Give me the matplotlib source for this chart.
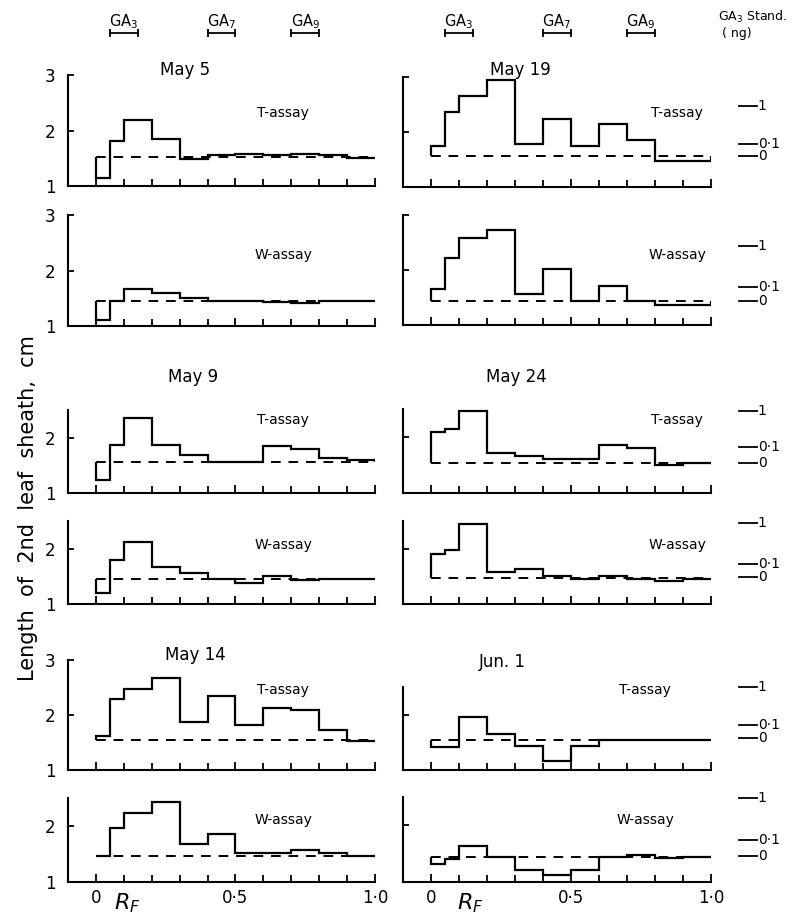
import matplotlib
matplotlib.use("Agg")
import matplotlib.pyplot as plt
from matplotlib.transforms import blended_transform_factory
from matplotlib.ticker import FixedLocator

# Rf zones (first zone split in halves)
rf_edges = [0, 0.05, 0.1, 0.2, 0.3, 0.4, 0.5, 0.6, 0.7, 0.8, 0.9, 1.0]

# Length of 2nd leaf sheath (cm) per zone
may5_t = [1.14, 1.81, 2.19, 1.84, 1.49, 1.55, 1.57, 1.55, 1.58, 1.55, 1.50]
may5_w = [1.11, 1.45, 1.66, 1.59, 1.50, 1.45, 1.45, 1.43, 1.41, 1.45, 1.45]
may9_t = [1.24, 1.87, 2.35, 1.87, 1.68, 1.56, 1.56, 1.85, 1.79, 1.64, 1.59]
may9_w = [1.19, 1.80, 2.12, 1.67, 1.56, 1.45, 1.38, 1.50, 1.44, 1.45, 1.45]
may14_t = [1.62, 2.29, 2.47, 2.68, 1.87, 2.34, 1.81, 2.13, 2.09, 1.73, 1.52]
may14_w = [1.47, 1.97, 2.24, 2.42, 1.67, 1.86, 1.52, 1.52, 1.58, 1.52, 1.47]
may19_t = [1.74, 2.36, 2.65, 2.95, 1.79, 2.23, 1.74, 2.15, 1.85, 1.47, 1.47]
may19_w = [1.65, 2.21, 2.59, 2.73, 1.56, 2.02, 1.44, 1.71, 1.44, 1.37, 1.37]
may24_t = [2.09, 2.15, 2.47, 1.72, 1.66, 1.60, 1.60, 1.85, 1.80, 1.50, 1.54]
may24_w = [1.91, 1.98, 2.44, 1.58, 1.64, 1.50, 1.45, 1.51, 1.46, 1.41, 1.46]
jun1_t = [1.42, 1.42, 1.95, 1.65, 1.43, 1.17, 1.43, 1.55, 1.54, 1.55, 1.54]
jun1_w = [1.31, 1.40, 1.63, 1.45, 1.21, 1.13, 1.21, 1.45, 1.47, 1.43, 1.45]

dates = ["May 5", "May 9", "May 14", "May 19", "May 24", "Jun. 1"]
t_assay = [may5_t, may9_t, may14_t, may19_t, may24_t, jun1_t]
w_assay = [may5_w, may9_w, may14_w, may19_w, may24_w, jun1_w]
t_control = [1.53, 1.56, 1.55, 1.56, 1.54, 1.55]
w_control = [1.45, 1.45, 1.47, 1.44, 1.47, 1.45]

# GA3 standards (1, 0.1, 0 ng), shown beside right-hand panels
std_labels = ["1", "0·1", "0"]
t_std = [[2.47, 1.79, 1.56], [2.47, 1.82, 1.54], [2.50, 1.82, 1.57]]
w_std = [[2.44, 1.69, 1.44], [2.46, 1.73, 1.49], [2.48, 1.74, 1.46]]

# Rf of authentic GAs
ga_names = ["GA$_3$", "GA$_7$", "GA$_9$"]
ga_rf = [(0.05, 0.15), (0.40, 0.50), (0.70, 0.80)]

W, H = 803, 914
fig = plt.figure(figsize=(W / 100, H / 100), dpi=100)
plt.rcParams["font.family"] = "DejaVu Sans"

cols = [(68, 375), (403, 711)]
rows = [
    [(75, 186), (215, 326), (410, 493), (521, 604), (660, 770), (798, 882)],
    [(77, 187), (215, 325), (409, 493), (521, 604), (687, 770), (797, 882)],
]
tops = [[3, 3, 2.5, 2.5, 3, 2.5], [3, 3, 2.5, 2.5, 2.5, 2.5]]
title_x = [[185, 193, 195], [520, 516, 502]]
title_y = [[70, 377, 655], [70, 377, 662]]
assay_x = [[283, 283, 283], [677, 677, 645]]
assay_y = [[113, 255], [420, 545], [690, 820]]


def px(x, y):
    return x / W, 1 - y / H


def add_ax(c, r):
    x0, x1 = cols[c]
    t, b = rows[c][r]
    return fig.add_axes([x0 / W, 1 - b / H, (x1 - x0) / W, (b - t) / H])


for c in range(2):
    for d in range(3):
        k = c * 3 + d
        for j, (vals, ctrl, name) in enumerate(
            [(t_assay[k], t_control[k], "T-assay"), (w_assay[k], w_control[k], "W-assay")]
        ):
            r = d * 2 + j
            ax = add_ax(c, r)
            ax.stairs(vals, rf_edges, baseline=ctrl, color="k", lw=1.6, fill=False)
            ax.plot([0, 1.0], [ctrl, ctrl], color="k", lw=1.4, dashes=(5, 4))
            top = tops[c][r]
            ax.set_xlim(-0.1, 1.0)
            ax.set_ylim(1, top)
            for s in ["top", "right"]:
                ax.spines[s].set_visible(False)
            for s in ["left", "bottom"]:
                ax.spines[s].set_linewidth(1.5)
            ax.xaxis.set_major_locator(FixedLocator([0, 0.5, 1.0]))
            ax.xaxis.set_minor_locator(FixedLocator([0.1, 0.2, 0.3, 0.4, 0.6, 0.7, 0.8, 0.9]))
            ax.tick_params(axis="x", which="major", direction="in", length=6, width=1.3, pad=5, labelsize=12)
            ax.tick_params(axis="x", which="minor", direction="in", length=5, width=1.3)
            yt = [1, 2, 3] if top == 3 else [1, 2]
            ax.set_yticks(yt)
            ax.tick_params(axis="y", direction="in", length=4, width=1.3, pad=9, labelsize=12)
            if c == 0:
                ax.set_yticklabels([str(v) for v in yt])
            else:
                ax.set_yticklabels([])
            if r == 5:
                ax.set_xticklabels(["0", "0·5", "1·0"])
            else:
                ax.set_xticklabels([])
            fig.text(*px(assay_x[c][d], assay_y[d][j]), name, ha="center", va="center", fontsize=10)

            if c == 1:
                stds = (t_std if j == 0 else w_std)[d]
                tr = blended_transform_factory(ax.transAxes, ax.transData)
                for lab, v in zip(std_labels, stds):
                    ax.plot([1.091, 1.149], [v, v], color="k", lw=1.3, transform=tr, clip_on=False)
                    ax.text(1.152, v, lab, transform=tr, ha="left", va="center", fontsize=10)

            if r == 0:
                tr = blended_transform_factory(ax.transData, fig.transFigure)
                for nm, (a, b) in zip(ga_names, ga_rf):
                    ax.plot([a, b], [1 - 33 / H] * 2, color="k", lw=1.3, marker="|",
                            markersize=6, mew=1.3, transform=tr, clip_on=False)
                    ax.text((a + b) / 2, 1 - 22 / H, nm, transform=tr, ha="center",
                            va="center", fontsize=10.5)

        fig.text(*px(title_x[c][d], title_y[c][d]), dates[k], ha="center", va="center", fontsize=12)

    rf_x = [127, 470][c]
    fig.text(*px(rf_x, 903), "$R_F$", ha="center", va="center", fontsize=16)

fig.text(*px(718, 17), "GA$_3$ Stand.", ha="left", va="center", fontsize=9)
fig.text(*px(722, 33), "( ng)", ha="left", va="center", fontsize=9)
fig.text(*px(28, 508), "Length  of  2nd  leaf  sheath,  cm", rotation=90,
         ha="center", va="center", fontsize=15)

fig.savefig("out.png", dpi=100)
